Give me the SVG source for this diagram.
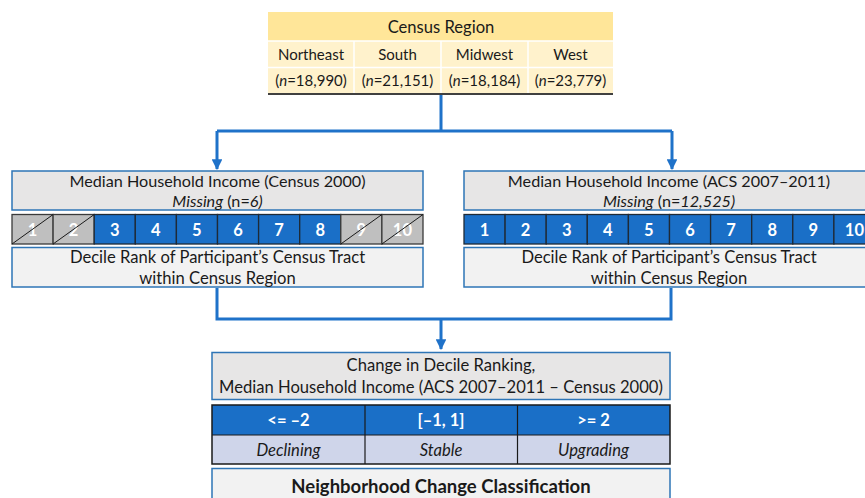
<svg xmlns="http://www.w3.org/2000/svg" width="865" height="498" viewBox="0 0 865 498">
<style>
text{font-family:Lato,"Open Sans","Liberation Sans",sans-serif;font-size:16.6px;fill:#1a1a1a;text-anchor:middle}
.t{font-size:15px}
.h{font-size:16.2px}
.b{font-weight:bold}
.i{font-style:italic}
.w{fill:#ffffff;font-weight:bold;font-size:16.5px}
.box{fill:#E7E6E6;stroke:#2E75B6;stroke-width:1.5}
.box2{fill:#F2F2F2;stroke:#2E75B6;stroke-width:1.5}
.blue{fill:#1A6FC7;stroke:#1f2a36;stroke-width:1.3}
.gray{fill:#BFBFBF;stroke:#3a3a3a;stroke-width:1.3}
.diag{stroke:#1a1a1a;stroke-width:1}
.con{fill:none;stroke:#1F72C9;stroke-width:3}
</style>
<defs>
<marker id="ah" viewBox="0 0 10 10" refX="9" refY="5" markerWidth="3.6" markerHeight="3.6" orient="auto" markerUnits="strokeWidth">
<path d="M0,0 L10,5 L0,10 z" fill="#1F72C9"/>
</marker>
</defs>

<g id="connectors">
<path class="con" d="M441,95 V131 M217,131 H672"/>
<path class="con" d="M217,131 V169" marker-end="url(#ah)"/>
<path class="con" d="M672,131 V169" marker-end="url(#ah)"/>
<path class="con" d="M217,288 V319 H671 V288 M441,319 V349" marker-end="url(#ah)"/>
</g>

<g id="census-region">
<rect x="268" y="12" width="345" height="29" fill="#FFE699"/>
<rect x="268" y="41" width="345" height="53" fill="#FFF2CC"/>
<line x1="268" y1="41" x2="613" y2="41" stroke="#ffffff" stroke-width="1.5"/>
<line x1="268" y1="67.5" x2="613" y2="67.5" stroke="#ffffff" stroke-width="1.5"/>
<line x1="354" y1="41" x2="354" y2="94" stroke="#ffffff" stroke-width="1.5"/>
<line x1="441" y1="41" x2="441" y2="94" stroke="#ffffff" stroke-width="1.5"/>
<line x1="528" y1="41" x2="528" y2="94" stroke="#ffffff" stroke-width="1.5"/>
<line x1="268" y1="94" x2="613" y2="94" stroke="#404040" stroke-width="2"/>
<text x="441" y="33">Census Region</text>
<text class="t" x="311" y="60">Northeast</text>
<text class="t" x="397.5" y="60">South</text>
<text class="t" x="484.5" y="60">Midwest</text>
<text class="t" x="570.5" y="60">West</text>
<text class="t" x="311" y="86">(<tspan class="i">n</tspan>=18,990)</text>
<text class="t" x="397.5" y="86">(<tspan class="i">n</tspan>=21,151)</text>
<text class="t" x="484.5" y="86">(<tspan class="i">n</tspan>=18,184)</text>
<text class="t" x="570.5" y="86">(<tspan class="i">n</tspan>=23,779)</text>
</g>

<g id="census2000">
<rect class="box" x="12" y="171" width="411" height="39"/>
<text class="h" x="217.5" y="186.5">Median Household Income (Census 2000)</text>
<text class="h" x="217.5" y="206.5"><tspan class="i">Missing</tspan> (n=<tspan class="i">6)</tspan></text>
</g>

<g id="deciles2000">
<rect class="gray" x="12" y="214.5" width="41.1" height="29.5"/>
<rect class="gray" x="53.1" y="214.5" width="41.1" height="29.5"/>
<rect class="blue" x="94.2" y="214.5" width="41.1" height="29.5"/>
<rect class="blue" x="135.3" y="214.5" width="41.1" height="29.5"/>
<rect class="blue" x="176.4" y="214.5" width="41.1" height="29.5"/>
<rect class="blue" x="217.5" y="214.5" width="41.1" height="29.5"/>
<rect class="blue" x="258.6" y="214.5" width="41.1" height="29.5"/>
<rect class="blue" x="299.7" y="214.5" width="41.1" height="29.5"/>
<rect class="gray" x="340.8" y="214.5" width="41.1" height="29.5"/>
<rect class="gray" x="381.9" y="214.5" width="41.1" height="29.5"/>
<text class="w" x="32.5" y="235.5">1</text>
<text class="w" x="73.6" y="235.5">2</text>
<text class="w" x="114.7" y="235.5">3</text>
<text class="w" x="155.8" y="235.5">4</text>
<text class="w" x="196.9" y="235.5">5</text>
<text class="w" x="238" y="235.5">6</text>
<text class="w" x="279.1" y="235.5">7</text>
<text class="w" x="320.2" y="235.5">8</text>
<text class="w" x="361.3" y="235.5">9</text>
<text class="w" x="402.4" y="235.5">10</text>
<line class="diag" x1="12" y1="244" x2="53.1" y2="214.5"/>
<line class="diag" x1="53.1" y1="244" x2="94.2" y2="214.5"/>
<line class="diag" x1="340.8" y1="244" x2="381.9" y2="214.5"/>
<line class="diag" x1="381.9" y1="244" x2="423" y2="214.5"/>
</g>

<g id="rank2000">
<rect class="box2" x="12" y="247.5" width="411" height="39.5"/>
<text x="217.5" y="262.5">Decile Rank of Participant’s Census Tract</text>
<text x="217.5" y="283.5">within Census Region</text>
</g>

<g id="acs">
<rect class="box" x="464" y="171" width="412" height="39"/>
<text class="h" x="669" y="186.5">Median Household Income (ACS 2007–2011)</text>
<text class="h" x="669" y="206.5"><tspan class="i">Missing</tspan> (n=<tspan class="i">12,525)</tspan></text>
</g>

<g id="decilesacs">
<rect class="blue" x="464" y="214.5" width="41.1" height="29.5"/>
<rect class="blue" x="505.1" y="214.5" width="41.1" height="29.5"/>
<rect class="blue" x="546.2" y="214.5" width="41.1" height="29.5"/>
<rect class="blue" x="587.3" y="214.5" width="41.1" height="29.5"/>
<rect class="blue" x="628.4" y="214.5" width="41.1" height="29.5"/>
<rect class="blue" x="669.5" y="214.5" width="41.1" height="29.5"/>
<rect class="blue" x="710.6" y="214.5" width="41.1" height="29.5"/>
<rect class="blue" x="751.7" y="214.5" width="41.1" height="29.5"/>
<rect class="blue" x="792.8" y="214.5" width="41.1" height="29.5"/>
<rect class="blue" x="833.9" y="214.5" width="41.1" height="29.5"/>
<text class="w" x="484.5" y="235.5">1</text>
<text class="w" x="525.6" y="235.5">2</text>
<text class="w" x="566.7" y="235.5">3</text>
<text class="w" x="607.8" y="235.5">4</text>
<text class="w" x="648.9" y="235.5">5</text>
<text class="w" x="690" y="235.5">6</text>
<text class="w" x="731.1" y="235.5">7</text>
<text class="w" x="772.2" y="235.5">8</text>
<text class="w" x="813.3" y="235.5">9</text>
<text class="w" x="854.4" y="235.5">10</text>
</g>

<g id="rankacs">
<rect class="box2" x="464" y="247.5" width="412" height="39.5"/>
<text x="669" y="262.5">Decile Rank of Participant’s Census Tract</text>
<text x="669" y="283.5">within Census Region</text>
</g>

<g id="change">
<rect class="box" x="212" y="352.5" width="458" height="47"/>
<text x="441" y="371">Change in Decile Ranking,</text>
<text x="441" y="393">Median Household Income (ACS 2007–2011 – Census 2000)</text>
</g>

<g id="change-table">
<rect x="212" y="405" width="458" height="30" fill="#1A6FC7"/>
<rect x="212" y="435" width="458" height="29" fill="#CFD5EA"/>
<rect x="212" y="405" width="458" height="59" fill="none" stroke="#1a1a1a" stroke-width="1.5"/>
<line x1="212" y1="435" x2="670" y2="435" stroke="#1a1a1a" stroke-width="1.2"/>
<line x1="365" y1="405" x2="365" y2="464" stroke="#1a1a1a" stroke-width="1.2"/>
<line x1="517.5" y1="405" x2="517.5" y2="464" stroke="#1a1a1a" stroke-width="1.2"/>
<text class="w" x="288.5" y="425.5">&lt;= –2</text>
<text class="w" x="441" y="425.5">[–1, 1]</text>
<text class="w" x="593.5" y="425.5">&gt;= 2</text>
<text class="i" x="288.5" y="455.5">Declining</text>
<text class="i" x="441" y="455.5">Stable</text>
<text class="i" x="593.5" y="455.5">Upgrading</text>
</g>

<g id="classification">
<rect class="box2" x="212" y="468.5" width="458" height="35"/>
<text class="b" x="441" y="492.5" style="font-size:18.5px">Neighborhood Change Classification</text>
</g>
</svg>
